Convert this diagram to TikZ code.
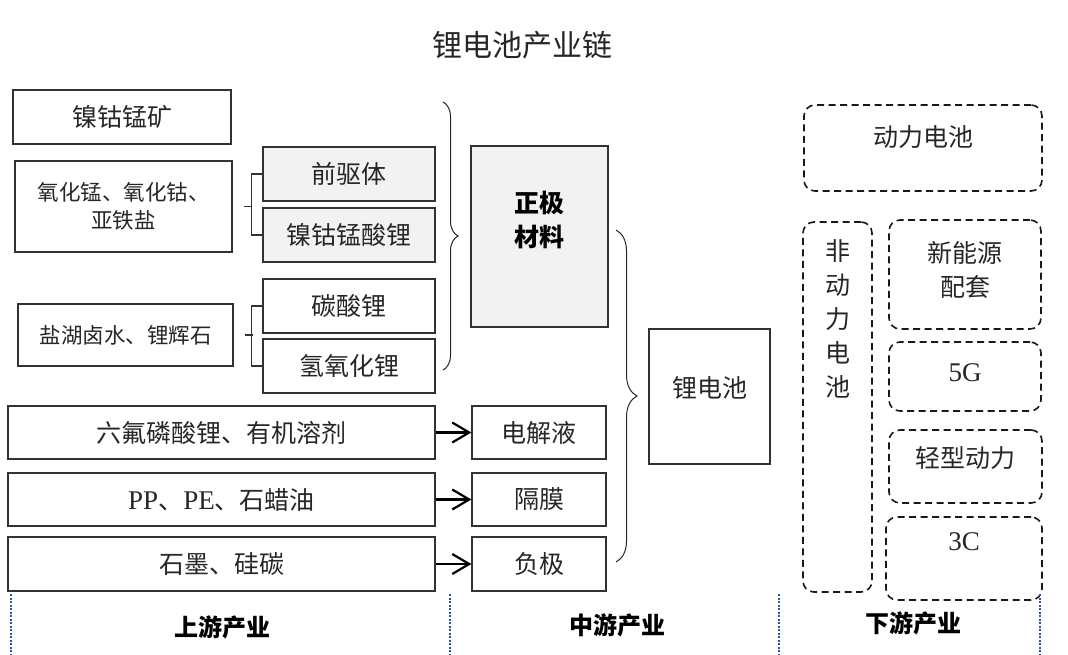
\documentclass[tikz,border=0pt]{standalone}
\usepackage{fontspec}
\setmainfont{Liberation Serif}
\newfontfamily\cjk{Noto Sans CJK SC}
\usetikzlibrary{positioning,arrows.meta,decorations.pathreplacing}
\definecolor{BoxGray}{RGB}{242,242,242}
\definecolor{LineGray}{RGB}{50,50,50}
\definecolor{TierBlue}{RGB}{47,85,151}

\begin{document}
\begin{tikzpicture}[x=1pt,y=-1pt,
  every node/.style={font=\cjk\fontsize{25}{34}\selectfont, text=black!85, align=center, inner sep=0pt},
  box/.style={draw=LineGray, line width=1.2pt, minimum height=54pt},
  shaded/.style={box, fill=BoxGray},
  small/.style={font=\cjk\fontsize{21.5}{28}\selectfont},
  latin/.style={font=\rmfamily\fontsize{27}{32}\selectfont},
  dbox/.style={draw=black!90, line width=1.6pt, dash pattern=on 7pt off 4.5pt, rounded corners=11pt},
  tier/.style={font=\cjk\bfseries\fontsize{24}{28}\selectfont, text=black},
  guide/.style={TierBlue, line width=2pt, dash pattern=on 2pt off 1.5pt},
  bracepath/.style={decorate, decoration={brace, amplitude=#1}, draw=black!85, line width=1pt},
  feed/.style={-{Straight Barb[length=17pt,width=20pt,line width=2.2pt]}, line width=2.2pt, black}]
  \useasboundingbox (0,0) rectangle (1068,654);
  \node (title) at (522,45) {\fontsize{30}{36}\selectfont 锂电池产业链};

  \node[box, minimum width=218pt] (kuang) at (122,117) {镍钴锰矿};
  \node[box, small, minimum width=217pt, minimum height=91pt] (yanghua) at (123.5,206.5) {氧化锰、氧化钴、\\亚铁盐};
  \node[box, small, minimum width=215pt, minimum height=62pt] (yanhu) at (125.5,335) {盐湖卤水、锂辉石};
  \node[shaded, minimum width=172pt] (qianqu) at (349,174) {前驱体};
  \node[shaded, minimum width=172pt] (sanyuan) at (349,235) {镍钴锰酸锂};
  \node[box, minimum width=172pt] (tansuan) at (349,306) {碳酸锂};
  \node[box, minimum width=172pt] (qingyang) at (349,366) {氢氧化锂};
  \node[box, minimum width=427pt, minimum height=53pt] (liufu) at (221.5,432.5) {六氟磷酸锂、有机溶剂};
  \node[box, minimum width=427pt, minimum height=53pt] (pp) at (221.5,499.5) {{\rmfamily\fontsize{27}{32}\selectfont PP}、{\rmfamily\fontsize{27}{32}\selectfont PE}、石蜡油};
  \node[box, minimum width=427pt, minimum height=54pt] (shimo) at (221.5,564) {石墨、硅碳};

  \draw[LineGray, line width=1.2pt] ([xshift=11pt]yanghua.east) -- ++(8,0);
  \draw[LineGray, line width=1.2pt] (qianqu.west) -- ++(-11,0) |- (sanyuan.west);
  \draw[LineGray, line width=1.2pt] ([xshift=11pt]yanhu.east) -- ++(8,0);
  \draw[LineGray, line width=1.2pt] (tansuan.west) -- ++(-11,0) |- (qingyang.west);

  \node[shaded, minimum width=137pt, minimum height=181pt] (zhengji) at (539.5,236.5) {};
  \node[text=black] (zhengjitext) at (539.5,220) {\bfseries 正极\\\bfseries 材料};
  \node[box, minimum width=134pt, minimum height=53pt] (dianjie) at (539,432.5) {电解液};
  \node[box, minimum width=134pt, minimum height=53pt] (gemo) at (539,499.5) {隔膜};
  \node[box, minimum width=134pt, minimum height=54pt] (fuji) at (539,564) {负极};
  \node[box, minimum width=121pt, minimum height=135pt] (lidian) at (709.5,396.5) {};
  \node (liditext) at (709.5,388) {锂电池};

  \draw[feed] (liufu) -- (dianjie);
  \draw[feed] (pp) -- (gemo);
  \draw[feed] (shimo) -- (fuji);

  \coordinate (b1top) at (443,102);
  \coordinate (b1bot) at (443,370);
  \draw[bracepath=15pt] (b1top) -- (b1bot);
  \coordinate (b2top) at (616,230);
  \coordinate (b2bot) at (616,562);
  \draw[bracepath=21pt] (b2top) -- (b2bot);

  \node[dbox, minimum width=238pt, minimum height=86pt] (dongli) at (923,148) {};
  \node (donglitext) at (923,137) {动力电池};
  \node[dbox, minimum width=69pt, minimum height=370pt] (feidongli) at (837.5,407) {};
  \node (feidonglitext) at (837.5,318.5) {非\\动\\力\\电\\池};
  \node[dbox, minimum width=152pt, minimum height=109pt] (xinneng) at (965,274.5) {};
  \node (xinnengtext) at (965,270) {新能源\\配套};
  \node[dbox, minimum width=152pt, minimum height=69pt] (wuG) at (965,376.5) {};
  \node[latin] (wuGtext) at (965,373) {5G};
  \node[dbox, minimum width=153pt, minimum height=73pt] (qingxing) at (965.5,466.5) {};
  \node (qingxingtext) at (965.5,458) {轻型动力};
  \node[dbox, minimum width=156pt, minimum height=83pt] (sanC) at (964,558.5) {};
  \node[latin] (sanCtext) at (964,542) {3C};

  \foreach \gx in {11,450,779,1040}
    \draw[guide] (\gx,594) -- (\gx,654);
  \node[tier] (shang) at (222,627) {上游产业};
  \node[tier] (zhong) at (617,625) {中游产业};
  \node[tier] (xia) at (913,623) {下游产业};
\end{tikzpicture}
\end{document}
